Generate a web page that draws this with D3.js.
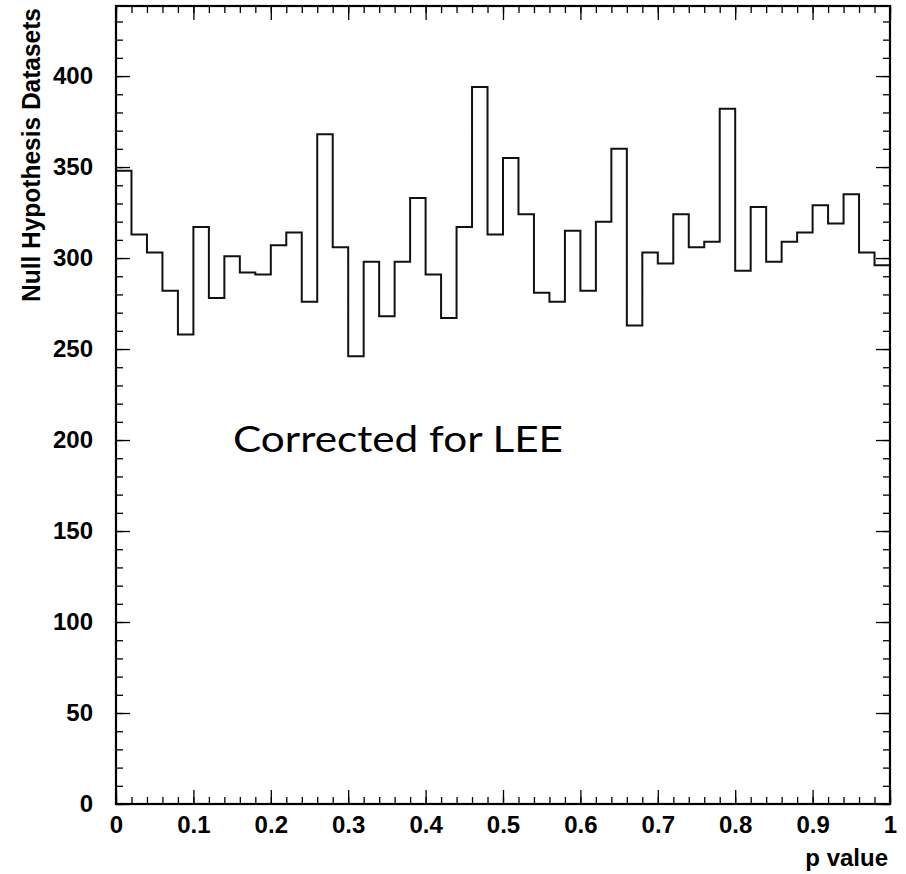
<!DOCTYPE html>
<html>
<head>
<meta charset="utf-8">
<script src="https://cdn.jsdelivr.net/npm/d3@7"></script>
<style>
  body { margin: 0; background: #fff; }
  svg { display: block; }
  .tick text { font-family: "Liberation Sans", Arial, sans-serif; font-weight: bold; font-size: 24px; fill: #000; }
</style>
</head>
<body>
<svg id="chart" width="906" height="874"></svg>
<script>
// 50 bins of width 0.02 between 0 and 1
var binEdges = d3.range(0, 51).map(function(i) { return i / 50; });
var counts = [348, 313, 303, 282, 258, 317, 278, 301, 292, 291,
              307, 314, 276, 368, 306, 246, 298, 268, 298, 333,
              291, 267, 317, 394, 313, 355, 324, 281, 276, 315,
              282, 320, 360, 263, 303, 297, 324, 306, 309, 382,
              293, 328, 298, 309, 314, 329, 319, 335, 303, 296];
var xTicks = [0, 0.1, 0.2, 0.3, 0.4, 0.5, 0.6, 0.7, 0.8, 0.9, 1];
var xMinor = d3.range(0, 51).map(function(i) { return i / 50; });
var yTicks = [0, 50, 100, 150, 200, 250, 300, 350, 400];
var yMinor = d3.range(0, 440, 10);
var yMax = 438.5;

var padL = 116, padR = 890, padT = 6, padB = 804;
var svg = d3.select("#chart");

var x = d3.scaleLinear().domain([0, 1]).range([padL, padR]);
var y = d3.scaleLinear().domain([0, yMax]).range([padB, padT]);

function clean(g) {
	g.select(".domain").remove();
	g.selectAll(".tick line").attr("stroke", "#000").attr("stroke-width", 1.3);
}

// minor ticks
svg.append("g").attr("transform", "translate(" + padL + ",0)")
	.call(d3.axisLeft(y).tickValues(yMinor).tickSize(-7).tickFormat("")).call(clean);
svg.append("g").attr("transform", "translate(" + padR + ",0)")
	.call(d3.axisRight(y).tickValues(yMinor).tickSize(-7).tickFormat("")).call(clean);
svg.append("g").attr("transform", "translate(0," + padB + ")")
	.call(d3.axisBottom(x).tickValues(xMinor).tickSize(-7).tickFormat("")).call(clean);
svg.append("g").attr("transform", "translate(0," + padT + ")")
	.call(d3.axisTop(x).tickValues(xMinor).tickSize(-7).tickFormat("")).call(clean);

// major ticks
svg.append("g").attr("transform", "translate(" + padL + ",0)")
	.call(d3.axisLeft(y).tickValues(yTicks).tickSize(-14).tickPadding(23).tickFormat(d3.format("d"))).call(clean);
svg.append("g").attr("transform", "translate(" + padR + ",0)")
	.call(d3.axisRight(y).tickValues(yTicks).tickSize(-14).tickFormat("")).call(clean);
svg.append("g").attr("transform", "translate(0," + padB + ")")
	.call(d3.axisBottom(x).tickValues(xTicks).tickSize(-14).tickPadding(12).tickFormat(d3.format("~g"))).call(clean);
svg.append("g").attr("transform", "translate(0," + padT + ")")
	.call(d3.axisTop(x).tickValues(xTicks).tickSize(-14).tickFormat("")).call(clean);

// histogram outline
var pts = [[0, 0]];
counts.forEach(function(c, i) {
	pts.push([binEdges[i], c]);
	pts.push([binEdges[i + 1], c]);
});
pts.push([1, 0]);
svg.append("path")
	.attr("d", d3.line().x(function(d) { return x(d[0]); }).y(function(d) { return y(d[1]); })(pts))
	.attr("fill", "none")
	.attr("stroke", "#111")
	.attr("stroke-width", 2);

// frame
svg.append("rect")
	.attr("x", padL).attr("y", padT)
	.attr("width", padR - padL).attr("height", padB - padT)
	.attr("fill", "none").attr("stroke", "#000").attr("stroke-width", 2.2);

// axis titles
svg.append("text")
	.attr("transform", "translate(40," + (padT + 2) + ") rotate(-90)")
	.attr("text-anchor", "end")
	.attr("font-family", "Liberation Sans, Arial, sans-serif")
	.attr("font-weight", "bold")
	.attr("font-size", 26)
	.attr("textLength", 294)
	.attr("lengthAdjust", "spacingAndGlyphs")
	.text("Null Hypothesis Datasets");

svg.append("text")
	.attr("x", padR - 2).attr("y", 866)
	.attr("text-anchor", "end")
	.attr("font-family", "Liberation Sans, Arial, sans-serif")
	.attr("font-weight", "bold")
	.attr("font-size", 24)
	.text("p value");

// annotation
svg.append("text")
	.attr("x", 233).attr("y", 452)
	.attr("font-family", "Lato, 'Open Sans', sans-serif")
	.attr("font-size", 37)
	.attr("textLength", 330)
	.attr("lengthAdjust", "spacingAndGlyphs")
	.text("Corrected for LEE");
</script>
</body>
</html>
